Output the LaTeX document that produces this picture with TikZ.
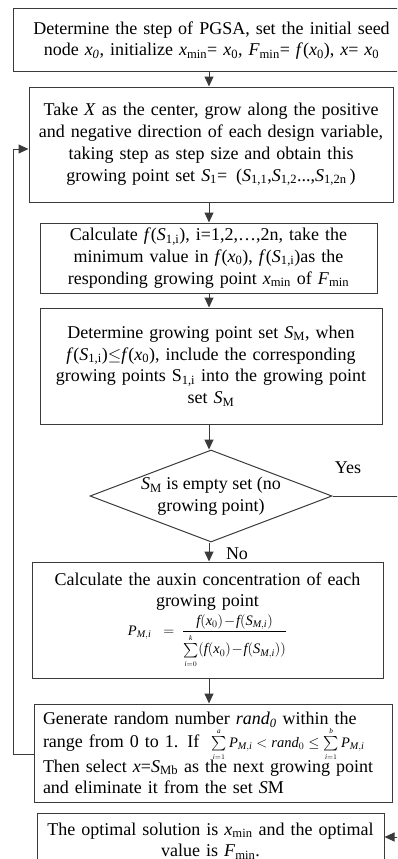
\documentclass[tikz,border=0pt]{standalone}
\usepackage{fontspec}
\setmainfont{Liberation Serif}
\usepackage{amsmath}
\usetikzlibrary{positioning,arrows.meta,shapes.geometric,calc}
\definecolor{lineGray}{HTML}{3A3A3A}
\newcommand{\mv}[1]{\textit{#1}}
\newcommand{\sumLim}[1]{\scriptscriptstyle #1}

\begin{document}
\begin{tikzpicture}[x=1pt, y=-1pt,
    every node/.style={font=\fontsize{18}{21.7}\selectfont},
    procBox/.style={draw=lineGray, line width=1pt, align=center, inner sep=0pt},
    testNode/.style={diamond, draw=lineGray, line width=1pt, align=center, inner sep=0pt, aspect=2.6},
    flowArrow/.style={-{Triangle[length=10pt,width=9pt]}, draw=lineGray, line width=1pt},
    flowLine/.style={draw=lineGray, line width=1pt}
]
    \useasboundingbox (0,0) rectangle (397,859);
    \clip (0,0) rectangle (397,859);

    % Spalte der Pfeile
    \coordinate (axis) at (209,0);

    % 1. Startwerte
    \node[procBox, minimum width=397pt, minimum height=63pt, text width=390pt] (init) at (211.5,40.5)
        {Determine the step of PGSA, set the initial seed\\
         node \textit{x\textsubscript{0}}, initialize \textit{x}\textsubscript{min}= \textit{x}\textsubscript{0}, \textit{F}\textsubscript{min}= \textit{f}(\textit{x}\textsubscript{0}), \textit{x}= \textit{x}\textsubscript{0}};

    % 2. Wachstumspunkte erzeugen
    \node[procBox, minimum width=364pt, minimum height=115pt, text width=362pt] (grow) at (211,144.5)
        {Take \textit{X} as the center, grow along the positive\\
         and negative direction of each design variable,\\
         taking step as step size and obtain this\\
         growing point set \textit{S}\textsubscript{1}= \,(\textit{S}\textsubscript{1,1},\textit{S}\textsubscript{1,2}...,\textit{S}\textsubscript{1,2n}\,)};

    % 3. Minimum bestimmen
    \node[procBox, minimum width=337pt, minimum height=70pt, text width=335pt] (calc) at (208.5,258)
        {Calculate \textit{f}(\textit{S}\textsubscript{1,i}), i=1,2,\dots,2n, take the\\
         minimum value in \textit{f}(\textit{x}\textsubscript{0}), \textit{f}(\textit{S}\textsubscript{1,i})as the\\
         responding growing point \textit{x}\textsubscript{min} of \textit{F}\textsubscript{min}};

    % 4. Menge S_M
    \node[procBox, minimum width=342pt, minimum height=116pt, text width=340pt] (setM) at (211,366)
        {Determine growing point set \textit{S}\textsubscript{M}, when\\
         \textit{f}(\textit{S}\textsubscript{1,i})$\le$\textit{f}(\textit{x}\textsubscript{0}), include the corresponding\\
         growing points S\textsubscript{1,i} into the growing point\\
         set \textit{S}\textsubscript{M}};

    % 5. Abfrage
    \node[testNode, minimum width=242pt, minimum height=92pt] (test) at (211,496)
        {\textit{S}\textsubscript{M} is empty set (no\\ growing point)};
    \node at (348,468) (yesLbl) {Yes};
    \node at (237,554) (noLbl) {No};

    % 6. Auxinkonzentration
    \node[procBox, minimum width=351pt, minimum height=116pt, text width=349pt] (auxin) at (207.5,620)
        {Calculate the auxin concentration of each\\
         growing point\\[3pt]
         {\fontsize{14.5}{14.5}\selectfont $\displaystyle \mv{P}_{\mv{M},\mv{i}}\!=\hspace{-7pt}\frac{\mv{f}(\mv{x}_0)\!-\!\mv{f}(\mv{S}_{\mv{M},\mv{i}})}{\sum\limits_{\sumLim{\mv{i}=0}}^{\sumLim{\mv{k}}}(\mv{f}(\mv{x}_0)\!-\!\mv{f}(\mv{S}_{\mv{M},\mv{i}}))}$}};

    % 7. Zufallsauswahl
    \node[procBox, align=left, minimum width=358pt, minimum height=98pt, text width=340pt] (pick) at (213,753)
        {Generate random number \textit{rand\textsubscript{0}} within the\\[1pt]
         range from 0 to 1. If \ \smash{\fontsize{14.5}{14.5}\selectfont $\sum\limits_{\sumLim{\mv{i}=1}}^{\sumLim{\mv{a}}}\mv{P}_{\mv{M},\mv{i}}<\mv{rand}_0\le\sum\limits_{\sumLim{\mv{i}=1}}^{\sumLim{\mv{b}}}\mv{P}_{\mv{M},\mv{i}}$}\\[3pt]
         Then select \textit{x}=\textit{S}\textsubscript{Mb} as the next growing point\\
         and eliminate it from the set \textit{S}M};

    % 8. Ergebnis
    \node[procBox, minimum width=347pt, minimum height=56pt, text width=345pt] (opt) at (210.5,841)
        {The optimal solution is \textit{x}\textsubscript{min} and the optimal\\
         value is \textit{F}\textsubscript{min}.};

    % Pfeile entlang der Achse
    \draw[flowArrow] (init.south -| axis) -- (grow.north -| axis);
    \draw[flowArrow] (grow.south -| axis) -- (calc.north -| axis);
    \draw[flowArrow] (calc.south -| axis) -- (setM.north -| axis);
    \draw[flowArrow] (setM.south -| axis) -- (test.north -| axis);
    \draw[flowArrow] (test.south -| axis) -- (auxin.north -| axis);
    \draw[flowArrow] (auxin.south -| axis) -- (pick.north -| axis);

    % Ruecksprung links
    \coordinate (loopBot) at (13,754);
    \coordinate (loopTop) at (13,149);
    \draw[flowArrow] (pick.west |- loopBot) -- (loopBot) -- (loopTop) -- (grow.west |- loopTop);

    % Ja-Zweig rechts
    \coordinate (yesTop) at (420,496);
    \coordinate (yesBot) at (420,837);
    \draw[flowArrow] (test.east) -- (yesTop) -- (yesBot) -- (opt.east |- yesBot);
\end{tikzpicture}
\end{document}
